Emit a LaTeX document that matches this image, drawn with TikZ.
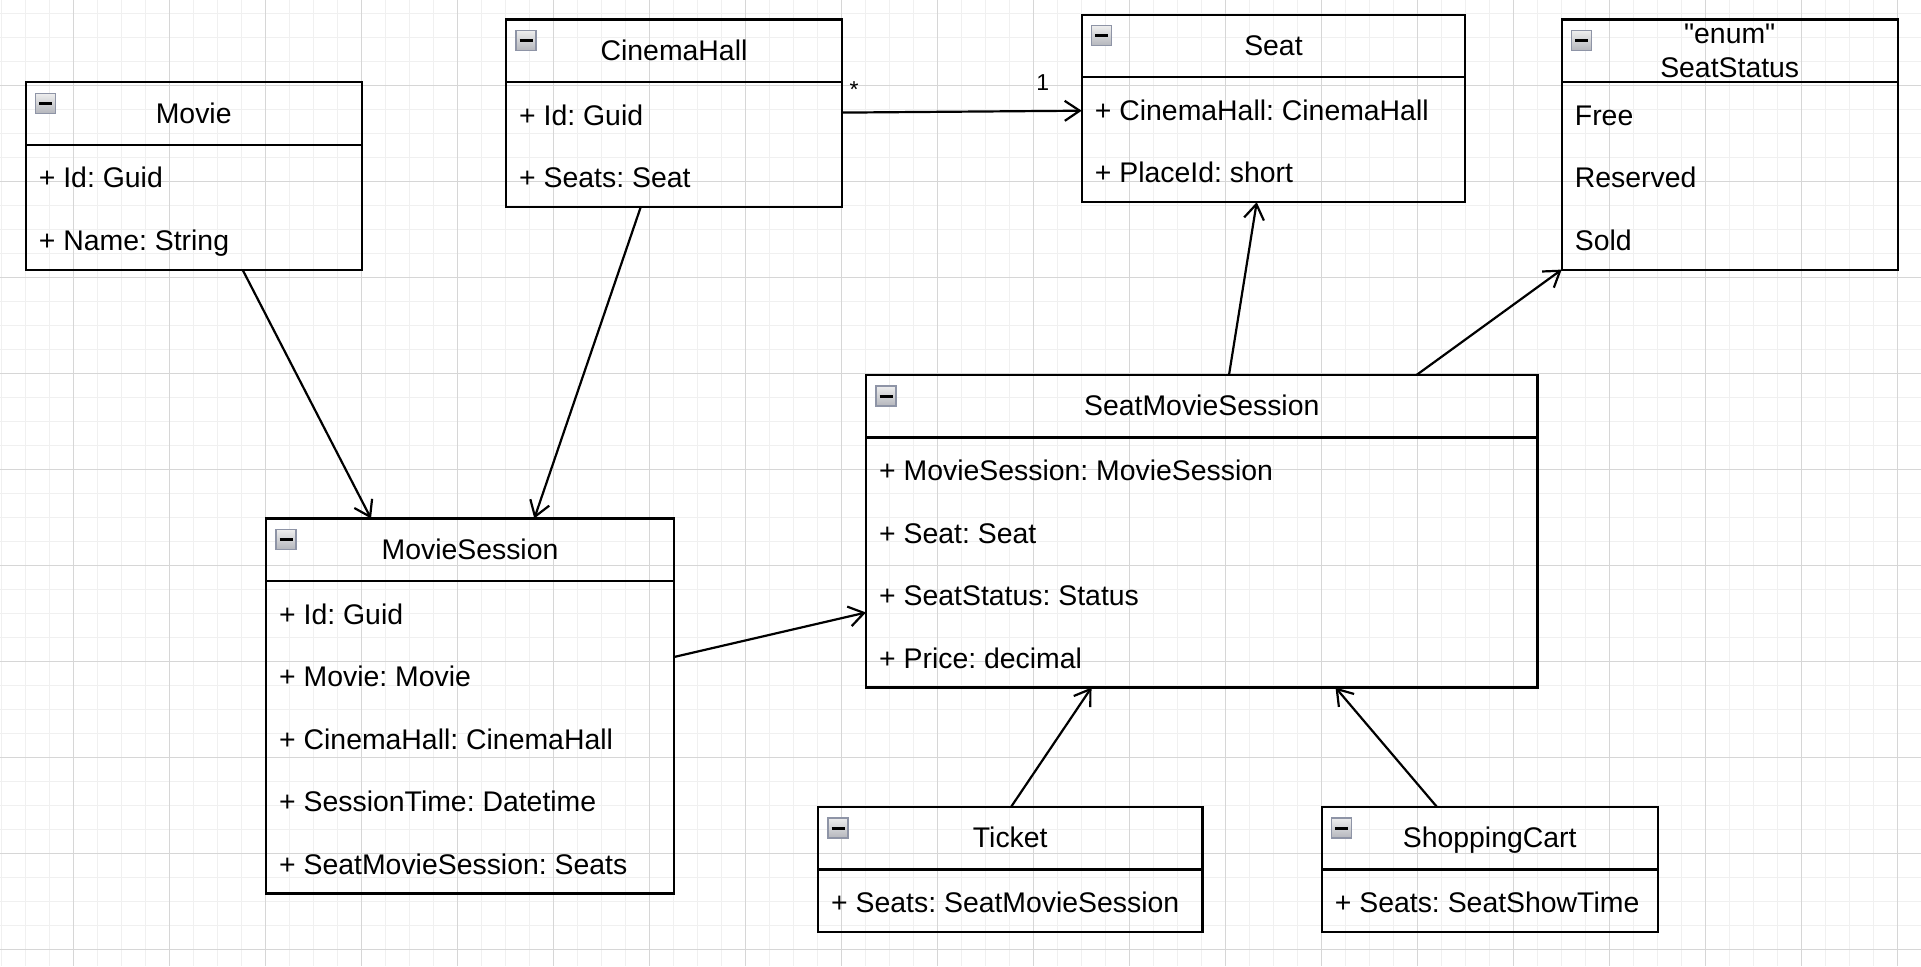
\documentclass[tikz,border=0pt]{standalone}
\usepackage{fontspec}
\setmainfont{Liberation Sans}[Ligatures=TeXOff]
\usetikzlibrary{arrows.meta}
\frenchspacing
\definecolor{gridminor}{HTML}{F0F0F0}
\definecolor{gridmajor}{HTML}{D6D6D6}
\definecolor{iconedge}{HTML}{8E94A6}
\definecolor{icontop}{HTML}{EEEEEE}
\definecolor{iconbot}{HTML}{B4B6BC}
\newcommand\umlclass[5]{%
  \node[classbox, minimum width=#4pt, minimum height=#5pt, anchor=north west] (#1) at (#2,#3) {};
  \draw[divline] ([yshift=-62.5pt]#1.north west) -- ([yshift=-62.5pt]#1.north east);
  \node[iconbox, anchor=north west] (#1-icon) at ([xshift=10pt,yshift=-11pt]#1.north west) {};
  \draw[iconbar] ([xshift=3.5pt]#1-icon.west) -- ([xshift=-3.5pt]#1-icon.east);
}
\newcommand\umlattr[4]{\node[attr] (#1) at ([xshift=13pt,yshift=-#3pt]#2.north west) {#4};}
\newcommand\umltitle[3]{\node[title] (#1) at ([yshift=-40.7pt]#2.north) {#3};}
\begin{document}
\begin{tikzpicture}[x=1pt,y=-1pt,
  classbox/.style={draw=black, line width=2.2pt, inner sep=0pt, outer sep=0pt, rectangle},
  divline/.style={draw=black, line width=2.2pt},
  iconbox/.style={draw=iconedge, line width=1.5pt, top color=icontop, bottom color=iconbot, minimum width=20pt, minimum height=20pt, inner sep=0pt, outer sep=0pt},
  iconbar/.style={draw=black, line width=3pt},
  title/.style={font=\fontsize{28.4}{34}\selectfont, anchor=base, inner sep=0pt},
  attr/.style={font=\fontsize{28.4}{34}\selectfont, anchor=base west, inner sep=0pt},
  mult/.style={font=\fontsize{23}{28}\selectfont, anchor=base, inner sep=0pt},
  assoc/.style={draw=black, line width=2.2pt, -{Straight Barb[length=15pt,width=20pt,line width=2.2pt]}},
  gminor/.style={draw=gridminor, line width=1pt},
  gmajor/.style={draw=gridmajor, line width=1pt},
]
\useasboundingbox (0,0) rectangle (1921,966);
\fill[white] (0,0) rectangle (1921,966);
% grid
\foreach \i in {0,...,80} \draw[gminor] ({1.3+24*\i},0) -- ({1.3+24*\i},966);
\foreach \j in {0,...,41} \draw[gminor] (0,{-10.7+24*\j}) -- (1921,{-10.7+24*\j});
\foreach \i in {0,...,19} \draw[gmajor] ({73.3+96*\i},0) -- ({73.3+96*\i},966);
\foreach \j in {0,...,9} \draw[gmajor] (0,{85.3+96*\j}) -- (1921,{85.3+96*\j});

% classes
\umlclass{movie}{25.7}{82.3}{336}{187.5}
\umltitle{movie-t}{movie}{Movie}
\umlattr{movie-a1}{movie}{105.5}{+ Id: Guid}
\umlattr{movie-a2}{movie}{168}{+ Name: String}

\umlclass{hall}{506}{19.6}{336}{187.5}
\umltitle{hall-t}{hall}{CinemaHall}
\umlattr{hall-a1}{hall}{105.5}{+ Id: Guid}
\umlattr{hall-a2}{hall}{168}{+ Seats: Seat}

\umlclass{seat}{1081.7}{14.7}{383.5}{187.5}
\umltitle{seat-t}{seat}{Seat}
\umlattr{seat-a1}{seat}{105.5}{+ CinemaHall: CinemaHall}
\umlattr{seat-a2}{seat}{168}{+ PlaceId: short}

\umlclass{status}{1561.7}{19.6}{336}{250}
\node[title] (status-t1) at ([yshift=-23.5pt]status.north) {"enum"};
\node[title] (status-t2) at ([yshift=-57.5pt]status.north) {SeatStatus};
\umlattr{status-a1}{status}{105.5}{Free}
\umlattr{status-a2}{status}{168}{Reserved}
\umlattr{status-a3}{status}{230.5}{Sold}

\umlclass{sms}{866}{375}{671.5}{312.5}
\umltitle{sms-t}{sms}{SeatMovieSession}
\umlattr{sms-a1}{sms}{105.5}{+ MovieSession: MovieSession}
\umlattr{sms-a2}{sms}{168}{+ Seat: Seat}
\umlattr{sms-a3}{sms}{230.5}{+ SeatStatus: Status}
\umlattr{sms-a4}{sms}{293}{+ Price: decimal}

\umlclass{msess}{266}{518.5}{408}{375}
\umltitle{msess-t}{msess}{MovieSession}
\umlattr{msess-a1}{msess}{105.5}{+ Id: Guid}
\umlattr{msess-a2}{msess}{168}{+ Movie: Movie}
\umlattr{msess-a3}{msess}{230.5}{+ CinemaHall: CinemaHall}
\umlattr{msess-a4}{msess}{293}{+ SessionTime: Datetime}
\umlattr{msess-a5}{msess}{355.5}{+ SeatMovieSession: Seats}

\umlclass{ticket}{818}{807}{384.5}{125}
\umltitle{ticket-t}{ticket}{Ticket}
\umlattr{ticket-a1}{ticket}{105.5}{+ Seats: SeatMovieSession}

\umlclass{cart}{1321.7}{807}{336}{125}
\umltitle{cart-t}{cart}{ShoppingCart}
\umlattr{cart-a1}{cart}{105.5}{+ Seats: SeatShowTime}

% associations
\draw[assoc] ([xshift=216.9pt]movie.south west) -- ([xshift=105pt]msess.north west);
\draw[assoc] ([xshift=134.7pt]hall.south west) -- ([xshift=268.3pt]msess.north west);
\draw[assoc] ([yshift=-93pt]hall.north east) -- ([yshift=-96pt]seat.north west);
\draw[assoc] ([yshift=-138.5pt]msess.north east) -- ([yshift=-237.5pt]sms.north west);
\draw[assoc] ([xshift=363pt]sms.north west) -- ([xshift=175pt]seat.south west);
\draw[assoc] ([xshift=550.5pt]sms.north west) -- (status.south west);
\draw[assoc] ([xshift=193pt]ticket.north west) -- ([xshift=225.5pt]sms.south west);
\draw[assoc] ([xshift=115.3pt]cart.north west) -- ([xshift=469.5pt]sms.south west);

% multiplicities
\node[mult] (m-star) at ([xshift=12pt,yshift=-78pt]hall.north east) {*};
\node[mult] (m-one) at ([xshift=-39pt,yshift=-75.3pt]seat.north west) {1};
\end{tikzpicture}
\end{document}
